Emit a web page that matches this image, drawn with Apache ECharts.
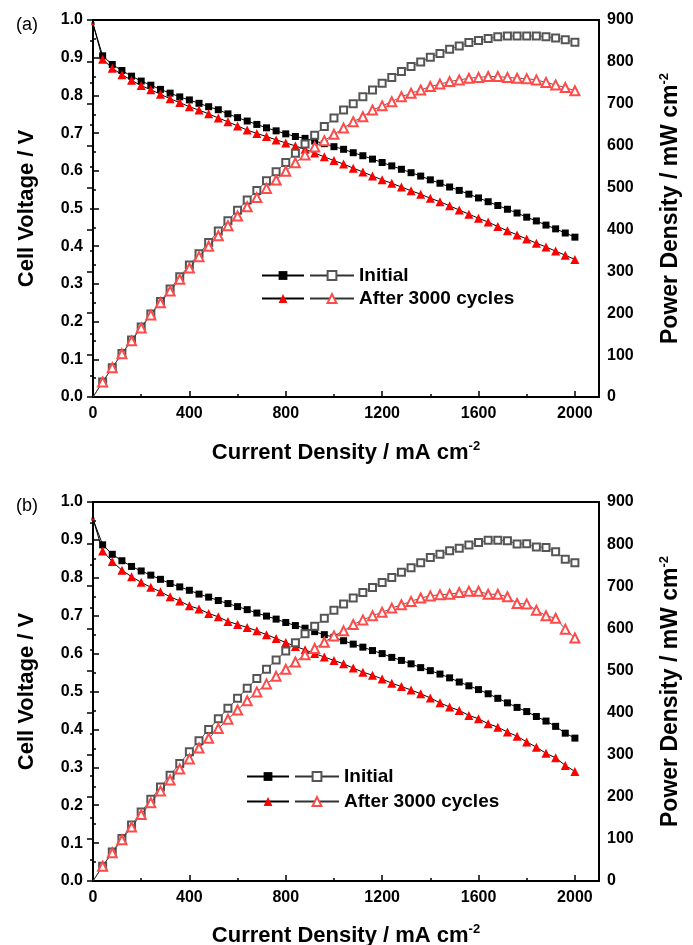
<!DOCTYPE html>
<html><head><meta charset="utf-8">
<script src="https://cdn.jsdelivr.net/npm/echarts@6/dist/echarts.min.js"></script>
<style>html,body{margin:0;padding:0;background:#fff}#a{width:693px;height:472px}#b{width:693px;height:473px}</style>
</head><body><div id="a"></div><div id="b"></div>
<script>
// Current density (mA cm-2)
const current = [0,40,80,120,160,200,240,280,320,360,400,440,480,520,560,600,640,680,720,760,800,840,880,920,960,1000,1040,1080,1120,1160,1200,1240,1280,1320,1360,1400,1440,1480,1520,1560,1600,1640,1680,1720,1760,1800,1840,1880,1920,1960,2000];
// Panel (a)
const voltInitA = [0.99,0.905,0.882,0.866,0.851,0.838,0.827,0.816,0.806,0.796,0.788,0.779,0.770,0.762,0.751,0.741,0.732,0.723,0.714,0.706,0.698,0.691,0.686,0.679,0.672,0.664,0.657,0.648,0.640,0.631,0.622,0.613,0.604,0.595,0.586,0.576,0.567,0.557,0.548,0.538,0.528,0.518,0.508,0.498,0.488,0.477,0.467,0.456,0.446,0.435,0.424];
const voltAftA = [0.99,0.896,0.872,0.855,0.840,0.826,0.815,0.803,0.791,0.781,0.770,0.761,0.751,0.740,0.730,0.719,0.708,0.699,0.691,0.682,0.674,0.666,0.657,0.647,0.637,0.627,0.618,0.607,0.597,0.586,0.576,0.567,0.557,0.547,0.538,0.527,0.518,0.507,0.496,0.485,0.474,0.464,0.452,0.441,0.430,0.419,0.408,0.398,0.387,0.376,0.365];
const powInitA = [0,36,70,104,136,167,198,228,258,287,315,342,369,396,421,446,470,493,516,538,560,582,604,625,646,666,685,700,717,733,749,763,777,789,800,811,820,830,838,846,851,856,860,862,862,862,862,860,857,853,847];
const powAftA = [0,36,70,103,134,165,196,225,253,281,308,335,360,385,409,432,454,476,498,518,539,559,578,597,612,627,642,657,669,685,695,705,717,725,733,741,747,753,757,761,763,765,765,763,761,760,757,751,745,739,731];
// Panel (b)
const voltInitB = [0.955,0.887,0.862,0.845,0.830,0.818,0.807,0.796,0.785,0.776,0.767,0.757,0.749,0.740,0.732,0.724,0.716,0.707,0.699,0.691,0.682,0.674,0.667,0.658,0.650,0.643,0.634,0.625,0.617,0.608,0.600,0.590,0.582,0.573,0.563,0.555,0.546,0.536,0.525,0.515,0.505,0.494,0.482,0.470,0.458,0.447,0.434,0.422,0.408,0.390,0.377];
const voltAftB = [0.955,0.871,0.843,0.820,0.803,0.788,0.775,0.763,0.750,0.739,0.726,0.718,0.706,0.697,0.685,0.677,0.669,0.660,0.650,0.640,0.629,0.619,0.610,0.600,0.591,0.582,0.573,0.562,0.551,0.543,0.533,0.522,0.513,0.504,0.494,0.483,0.470,0.459,0.450,0.437,0.428,0.415,0.406,0.393,0.382,0.367,0.353,0.337,0.325,0.305,0.289];
const powInitB = [0,35,69,101,133,164,194,223,251,279,307,333,360,385,410,434,458,481,503,525,546,566,587,605,624,643,658,672,685,697,709,721,733,744,756,768,776,784,790,798,804,809,809,808,800,801,793,792,782,764,756];
const powAftB = [0,35,67,98,128,158,186,214,240,266,290,316,339,362,384,406,428,449,468,486,503,520,537,552,567,582,594,609,620,630,638,648,656,664,672,677,680,681,685,688,688,681,681,675,659,658,643,630,624,598,577];

const FONT = '"Liberation Sans", Arial, sans-serif';
const zip = (xs, ys) => xs.map((x, i) => [x, ys[i]]);

function build(c) {
  const axLine = {show: true, lineStyle: {color: '#000', width: 2}};
  const tickLab = {color: '#000', fontFamily: FONT, fontWeight: 'bold', fontSize: 16};
  const mkName = (size) => ({color: '#000', fontFamily: FONT, fontWeight: 'bold', fontSize: size,
    rich: {sup: {fontFamily: FONT, fontWeight: 'bold', fontSize: 13, color: '#000', padding: [0, 0, 13, 0]}}});
  const legText = {color: '#000', fontFamily: FONT, fontWeight: 'bold', fontSize: 19};
  return {
    animation: false,
    title: {text: c.label, left: 11, top: c.labelTop, textStyle: {fontFamily: FONT, fontSize: 18, fontWeight: 'normal', color: '#000'}},
    grid: {left: 93, right: 94, top: c.gridTop, bottom: c.gridBottom, show: true, borderColor: '#000', borderWidth: 2,
      backgroundColor: 'transparent', containLabel: false, outerBoundsMode: 'none'},
    legend: [
      {data: ['Initial V', 'After V'], orient: 'vertical', left: c.legLeft, top: c.legTop, padding: 0, itemWidth: 42, itemHeight: 11,
       itemGap: c.legGap, selectedMode: false, formatter: () => ' ', textStyle: legText},
      {data: ['Initial', 'After 3000 cycles'], orient: 'vertical', left: c.legLeft + 48, top: c.legTop, padding: 0, itemWidth: 44, itemHeight: 11,
       itemGap: c.legGap, selectedMode: false, textGap: 7, textStyle: legText}
    ],
    xAxis: [
      {type: 'value', min: 0, max: 2100, interval: 200, axisLine: axLine,
       axisTick: {inside: true, length: 3, lineStyle: {color: '#000', width: 1.5}},
       axisLabel: Object.assign({margin: 9, formatter: v => (v % 400 === 0 && v <= 2000) ? String(v) : ''}, tickLab),
       splitLine: {show: false},
       name: 'Current Density / mA cm{sup|-2}', nameLocation: 'middle', nameGap: c.xNameGap, nameTextStyle: mkName(22)},
      {type: 'value', min: 0, max: 2100, interval: 400, position: 'bottom', axisLine: {show: false},
       axisTick: {inside: true, length: 6, lineStyle: {color: '#000', width: 1.5}},
       axisLabel: {show: false}, splitLine: {show: false}}
    ],
    yAxis: [
      {type: 'value', min: 0, max: 1, interval: 0.1, axisLine: axLine,
       axisTick: {inside: true, length: 6, lineStyle: {color: '#000', width: 1.5}},
       minorTick: {show: true, splitNumber: 2, length: 3, lineStyle: {color: '#000', width: 1.5}},
       axisLabel: Object.assign({margin: 10, formatter: v => v.toFixed(1)}, tickLab),
       splitLine: {show: false},
       name: 'Cell Voltage / V', nameLocation: 'middle', nameGap: 55, nameTextStyle: mkName(22)},
      {type: 'value', min: 0, max: 900, interval: 100, position: 'right', axisLine: axLine,
       axisTick: {inside: true, length: 6, lineStyle: {color: '#000', width: 1.5}},
       minorTick: {show: true, splitNumber: 2, length: 3, lineStyle: {color: '#000', width: 1.5}},
       axisLabel: Object.assign({margin: 8}, tickLab),
       splitLine: {show: false},
       name: 'Power Density / mW cm{sup|-2}', nameLocation: 'middle', nameGap: 59, nameTextStyle: mkName(23)}
    ],
    series: [
      {name: 'Initial V', type: 'line', xAxisIndex: 0, yAxisIndex: 0, data: zip(current, c.vi),
       symbol: 'rect', symbolSize: (v, p) => p.dataIndex === 0 ? 3 : 7,
       itemStyle: {color: '#000'}, lineStyle: {color: '#000', width: 1}, silent: true, z: 2},
      {name: 'After V', type: 'line', xAxisIndex: 0, yAxisIndex: 0, data: zip(current, c.va),
       symbol: 'triangle', symbolSize: (v, p) => p.dataIndex === 0 ? 3 : 9,
       itemStyle: {color: '#ff0000'}, lineStyle: {color: '#000', width: 1}, silent: true, z: 3},
      {name: 'Initial', type: 'line', xAxisIndex: 0, yAxisIndex: 1, data: zip(current, c.pi),
       symbol: 'emptyRect', symbolSize: (v, p) => p.dataIndex === 0 ? 0 : 7,
       itemStyle: {color: '#555', borderWidth: 1}, lineStyle: {color: '#333', width: 0.8}, silent: true, z: 4},
      {name: 'After 3000 cycles', type: 'line', xAxisIndex: 0, yAxisIndex: 1, data: zip(current, c.pa),
       symbol: 'emptyTriangle', symbolSize: (v, p) => p.dataIndex === 0 ? 0 : 9,
       itemStyle: {color: '#ff4a4a', borderWidth: 1}, lineStyle: {color: '#333', width: 0.8}, silent: true, z: 5}
    ]
  };
}

const ca = echarts.init(document.getElementById('a'), null, {renderer: 'canvas'});
ca.setOption(build({label: '(a)', labelTop: 11, gridTop: 20, gridBottom: 75, legLeft: 261, legTop: 266, legGap: 4, xNameGap: 43,
  vi: voltInitA, va: voltAftA, pi: powInitA, pa: powAftA}));
const cb = echarts.init(document.getElementById('b'), null, {renderer: 'canvas'});
cb.setOption(build({label: '(b)', labelTop: 20, gridTop: 30, gridBottom: 64, legLeft: 246, legTop: 295, legGap: 6, xNameGap: 42,
  vi: voltInitB, va: voltAftB, pi: powInitB, pa: powAftB}));
</script></body></html>
